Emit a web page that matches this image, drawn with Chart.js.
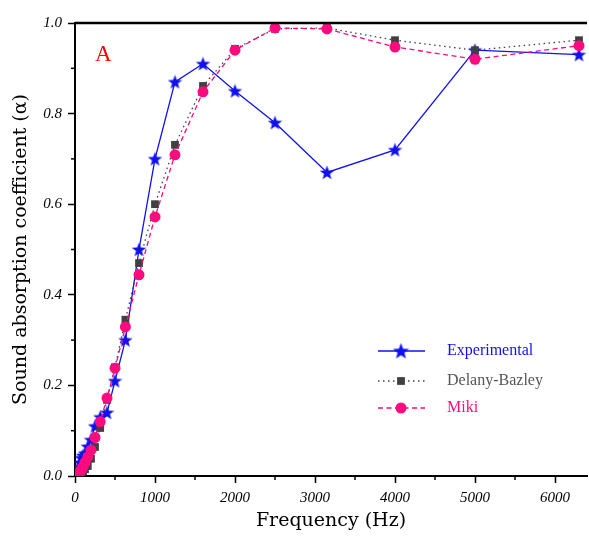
<!DOCTYPE html>
<html><head><meta charset="utf-8">
<script src="https://cdn.jsdelivr.net/npm/chart.js@4/dist/chart.umd.min.js"></script>
<style>html,body{margin:0;padding:0;background:#fff}#w{width:589px;height:536px}</style>
</head><body><div id="w"><canvas id="c" width="589" height="536"></canvas></div>
<script>
const freqs = [50,63,80,100,125,160,200,250,315,400,500,630,800,1000,1250,1600,2000,2500,3150,4000,5000,6300];
const experimental = [0.02,0.03,0.04,0.045,0.05,0.065,0.08,0.11,0.13,0.14,0.21,0.30,0.50,0.70,0.87,0.91,0.85,0.78,0.67,0.72,0.94,0.93];
const delanyBazley = [0.003,0.005,0.007,0.01,0.015,0.022,0.038,0.064,0.106,0.168,0.24,0.345,0.47,0.60,0.731,0.861,0.943,0.987,0.989,0.962,0.94,0.962];
const miki = [0.006,0.01,0.014,0.02,0.03,0.042,0.057,0.085,0.12,0.172,0.238,0.329,0.444,0.572,0.709,0.848,0.94,0.989,0.987,0.947,0.92,0.95];
const xTicks = [0,1000,2000,3000,4000,5000,6000];
const yTicks = [0,0.2,0.4,0.6,0.8,1.0];
const xMinor = [500,1500,2500,3500,4500,5500];
const yMinor = [0.1,0.3,0.5,0.7,0.9];

const BLUE = '#1010f0', GRAY = '#404040', PINK = '#ff0a7f';
function starImg(color, size){
  const c = document.createElement('canvas'); c.width = size; c.height = size;
  const g = c.getContext('2d'); const r = size/2, ri = r*0.42;
  g.beginPath();
  for (let i=0;i<10;i++){ const rad = i%2? ri : r; const a = -Math.PI/2 + i*Math.PI/5;
    const px = r + rad*Math.cos(a), py = r + rad*Math.sin(a)+0.6; i? g.lineTo(px,py):g.moveTo(px,py); }
  g.closePath(); g.fillStyle = color; g.fill(); return c;
}
const star = starImg(BLUE, 15);
const starL = starImg(BLUE, 17);
const mk = (ys) => freqs.map((f,i)=>({x:f,y:ys[i]}));

const extras = {
  id:'extras',
  afterDraw(chart){
    const ctx = chart.ctx, a = chart.chartArea, xs = chart.scales.x, ys = chart.scales.y;
    ctx.save();
    ctx.strokeStyle = '#000'; ctx.lineWidth = 2.5;
    ctx.beginPath(); ctx.moveTo(a.left, a.top); ctx.lineTo(a.right, a.top); ctx.stroke();
    ctx.lineWidth = 1.5;
    xMinor.forEach(v=>{ const p = xs.getPixelForValue(v); ctx.beginPath(); ctx.moveTo(p,a.bottom); ctx.lineTo(p,a.bottom+4); ctx.stroke(); });
    yMinor.forEach(v=>{ const p = ys.getPixelForValue(v); ctx.beginPath(); ctx.moveTo(a.left,p); ctx.lineTo(a.left-4,p); ctx.stroke(); });
    ctx.fillStyle = '#ff0000'; ctx.font = '23px "Liberation Serif"'; ctx.textBaseline='middle';
    ctx.fillText('A', 95, 55);
    const rows = [351, 381, 408];
    const txtCol = [BLUE, '#555555', PINK];
    chart.data.datasets.forEach((ds,i)=>{
      const y = rows[i];
      ctx.save();
      ctx.strokeStyle = ds.borderColor; ctx.lineWidth = ds.borderWidth; ctx.setLineDash(ds.borderDash||[]);
      ctx.beginPath(); ctx.moveTo(378,y); ctx.lineTo(425,y); ctx.stroke();
      ctx.restore();
      if (i===0) ctx.drawImage(starL, 401-8.5, y-8.5);
      else { ctx.fillStyle = ds.backgroundColor; ctx.strokeStyle = ds.backgroundColor;
        Chart.helpers.drawPoint(ctx, {pointStyle: ds.pointStyle, radius: ds.pointRadius, borderWidth:0}, 401, y); }
      ctx.fillStyle = txtCol[i]; ctx.font = '16px "Liberation Serif"'; ctx.textBaseline='middle';
      ctx.fillText(ds.label, 447, y);
    });
    ctx.restore();
  }
};

new Chart(document.getElementById('c'), {
  type:'line',
  data:{datasets:[
    {label:'Experimental', data:mk(experimental), borderColor:BLUE, backgroundColor:BLUE, borderWidth:1.3, pointStyle:star, pointRadius:7, order:3},
    {label:'Delany-Bazley', data:mk(delanyBazley), borderColor:GRAY, backgroundColor:GRAY, borderWidth:1.3, borderDash:[1.5,3.5], pointStyle:'rect', pointRadius:5.5, pointBorderWidth:0, order:2},
    {label:'Miki', data:mk(miki), borderColor:PINK, backgroundColor:PINK, borderWidth:1.3, borderDash:[5,3.5], pointStyle:'circle', pointRadius:5.5, pointBorderWidth:0, order:1}
  ]},
  options:{
    responsive:false, animation:false,
    layout:{autoPadding:false, padding:{left:0,right:2,top:23,bottom:0}},
    plugins:{legend:{display:false}, tooltip:{enabled:false}},
    scales:{
      x:{type:'linear', min:0, max:6400,
        afterBuildTicks: s => { s.ticks = xTicks.map(v=>({value:v})); },
        afterFit: s => { s.height = 60; s.paddingLeft = 0; s.paddingRight = 0; },
        grid:{drawOnChartArea:false, tickLength:7, tickWidth:1.5, tickColor:'#000'},
        border:{color:'#000', width:2},
        ticks:{color:'#000', font:{family:'"Liberation Serif"', size:15, style:'italic'}, padding:6, maxRotation:0, callback:v=>String(v)},
        title:{display:true, text:'Frequency (Hz)', color:'#000', font:{family:'"DejaVu Serif"', size:19}, padding:{top:8}}
      },
      y:{min:0, max:1.0,
        afterBuildTicks: s => { s.ticks = yTicks.map(v=>({value:v})); },
        afterFit: s => { s.width = 75; },
        grid:{drawOnChartArea:false, tickLength:7, tickWidth:1.5, tickColor:'#000'},
        border:{color:'#000', width:2},
        ticks:{color:'#000', font:{family:'"Liberation Serif"', size:15, style:'italic'}, padding:6, callback:v=>v.toFixed(1)},
        title:{display:true, text:'Sound absorption coefficient (α)', color:'#000', font:{family:'"DejaVu Serif"', size:19}, padding:{top:10, bottom:4}}
      }
    }
  },
  plugins:[extras]
});
</script></body></html>
